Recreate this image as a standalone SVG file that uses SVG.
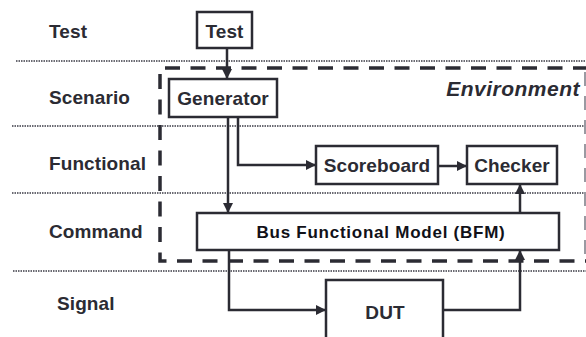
<svg xmlns="http://www.w3.org/2000/svg" width="586" height="337" viewBox="0 0 586 337">
  <defs>
    <marker id="arrow" viewBox="0 0 10 10" refX="10" refY="5" markerWidth="10" markerHeight="10" markerUnits="userSpaceOnUse" orient="auto">
      <path d="M0,0 L10,5 L0,10 Z" fill="#2b2b33"/>
    </marker>
    <style>
      .lvl { font-family: "Liberation Sans", Arial, sans-serif; font-weight: bold; font-size: 19px; fill: #2b2b33; letter-spacing: 0.1px; }
      .lbl { font-family: "Liberation Sans", Arial, sans-serif; font-weight: bold; font-size: 19px; fill: #2b2b33; letter-spacing: 0.1px; text-anchor: middle; }
      .box { fill: #ffffff; stroke: #2b2b33; stroke-width: 2.5; }
      .sep { stroke: #3a3a44; stroke-width: 1.5; stroke-dasharray: 1.5 1; fill: none; }
      .env { stroke: #2b2b33; stroke-width: 3.5; stroke-dasharray: 15 10.5; fill: none; }
      .wire { stroke: #2b2b33; stroke-width: 2.5; fill: none; }
    </style>
  </defs>
  <rect width="586" height="337" fill="#ffffff"/>

  <!-- layer separators -->
  <g id="separators">
    <line class="sep" x1="16" y1="61" x2="586" y2="61"/>
    <line class="sep" x1="12" y1="126" x2="586" y2="126"/>
    <line class="sep" x1="12" y1="193" x2="586" y2="193"/>
    <line class="sep" x1="13" y1="271" x2="586" y2="271"/>
  </g>

  <!-- layer names -->
  <g id="levels">
    <text class="lvl" x="49" y="38">Test</text>
    <text class="lvl" x="49" y="104">Scenario</text>
    <text class="lvl" x="49" y="170">Functional</text>
    <text class="lvl" x="49" y="238">Command</text>
    <text class="lvl" x="57" y="310">Signal</text>
  </g>

  <!-- environment boundary -->
  <g id="environment">
    <path class="env" d="M165,68 H586"/>
    <path class="env" d="M160,74 V261 H586"/>
    <line x1="585" y1="72" x2="585" y2="258" stroke="#9a9aa2" stroke-width="2" stroke-dasharray="14 10"/>
    <text x="580" y="96" text-anchor="end" font-family="Liberation Sans, Arial, sans-serif" font-weight="bold" font-style="italic" font-size="21" letter-spacing="0.5" fill="#2b2b33">Environment</text>
  </g>

  <!-- connectors -->
  <g id="connectors">
    <line class="wire" x1="227" y1="48" x2="227" y2="79" marker-end="url(#arrow)"/>
    <line class="wire" x1="228" y1="117" x2="228" y2="213" marker-end="url(#arrow)"/>
    <path class="wire" d="M238,117 V165 H316" marker-end="url(#arrow)"/>
    <line class="wire" x1="438" y1="166" x2="467" y2="166" marker-end="url(#arrow)"/>
    <line class="wire" x1="520" y1="213" x2="520" y2="184" marker-end="url(#arrow)"/>
    <path class="wire" d="M229,250 V310 H326" marker-end="url(#arrow)"/>
    <path class="wire" d="M443,310 H520 V250" marker-end="url(#arrow)"/>
  </g>

  <g id="test">
    <rect class="box" x="197" y="12" width="55" height="36"/>
    <text class="lbl" x="224.5" y="38">Test</text>
  </g>

  <g id="generator">
    <rect class="box" x="169" y="79" width="108" height="38"/>
    <text class="lbl" x="223" y="105">Generator</text>
  </g>

  <g id="scoreboard">
    <rect class="box" x="316" y="146" width="122" height="38"/>
    <text class="lbl" x="377" y="172">Scoreboard</text>
  </g>

  <g id="checker">
    <rect class="box" x="467" y="146" width="90" height="38"/>
    <text class="lbl" x="512" y="172">Checker</text>
  </g>

  <g id="bfm">
    <rect class="box" x="197" y="213" width="362" height="37"/>
    <text x="381" y="238" text-anchor="middle" font-family="Liberation Sans, Arial, sans-serif" font-weight="bold" font-size="17" letter-spacing="0.75" fill="#111118">Bus Functional Model (BFM)</text>
  </g>

  <g id="dut">
    <rect class="box" x="326" y="280" width="117" height="70"/>
    <text class="lbl" x="385" y="319">DUT</text>
  </g>
</svg>
